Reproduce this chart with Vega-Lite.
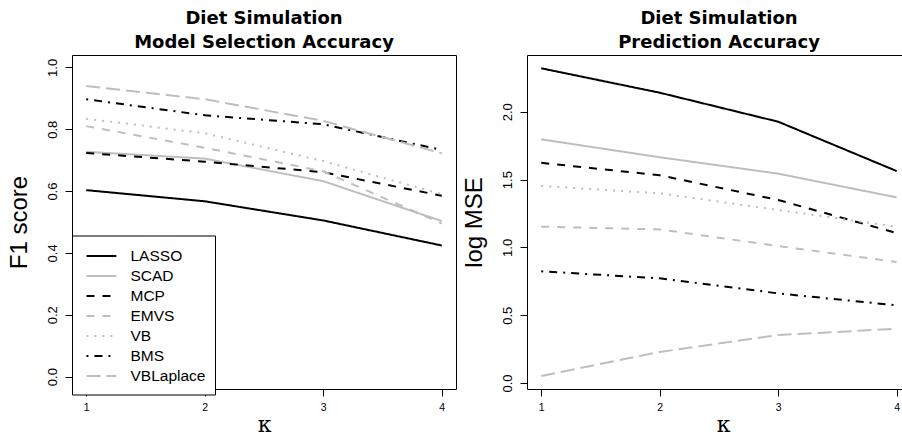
{
  "$schema": "https://vega.github.io/schema/vega-lite/v6.json",
  "background": "white",
  "padding": {"left": 6, "top": 9, "right": 0, "bottom": 0},
  "bounds": "flush",
  "spacing": 71,
  "config": {
    "view": {"stroke": "black", "strokeWidth": 1},
    "font": "Liberation Sans",
    "title": {"font": "DejaVu Sans", "fontSize": 18, "fontWeight": "bold", "color": "black", "lineHeight": 24, "anchor": "middle", "frame": "group", "offset": 3},
    "axis": {"domain": false, "grid": false, "ticks": true, "tickColor": "black", "tickSize": 7, "tickWidth": 1, "labelColor": "black", "labelFont": "Liberation Sans", "titleColor": "black", "titleFontWeight": "normal", "labelOverlap": false, "labelFlush": false},
    "axisX": {"labelFontSize": 10.5, "labelPadding": 6, "titleFont": "DejaVu Serif", "titleFontSize": 22, "titleBaseline": "alphabetic", "titlePadding": 19},
    "axisY": {"labelAngle": 270, "labelAlign": "center", "labelBaseline": "bottom", "labelFontSize": 13, "labelPadding": 6, "titleFont": "Liberation Sans", "titleFontSize": 24, "titleBaseline": "alphabetic", "titlePadding": 20},
    "legend": {"labelFont": "Liberation Sans"}
  },
  "data": {"values": [
    {"k": 1, "method": "LASSO", "f1": 0.603, "mse": 2.321},
    {"k": 2, "method": "LASSO", "f1": 0.567, "mse": 2.141},
    {"k": 3, "method": "LASSO", "f1": 0.505, "mse": 1.927},
    {"k": 4, "method": "LASSO", "f1": 0.424, "mse": 1.563},
    {"k": 1, "method": "SCAD", "f1": 0.727, "mse": 1.797},
    {"k": 2, "method": "SCAD", "f1": 0.705, "mse": 1.665},
    {"k": 3, "method": "SCAD", "f1": 0.632, "mse": 1.544},
    {"k": 4, "method": "SCAD", "f1": 0.503, "mse": 1.369},
    {"k": 1, "method": "MCP", "f1": 0.723, "mse": 1.624},
    {"k": 2, "method": "MCP", "f1": 0.695, "mse": 1.532},
    {"k": 3, "method": "MCP", "f1": 0.661, "mse": 1.35},
    {"k": 4, "method": "MCP", "f1": 0.585, "mse": 1.106},
    {"k": 1, "method": "EMVS", "f1": 0.81, "mse": 1.153},
    {"k": 2, "method": "EMVS", "f1": 0.74, "mse": 1.133},
    {"k": 3, "method": "EMVS", "f1": 0.664, "mse": 1.01},
    {"k": 4, "method": "EMVS", "f1": 0.495, "mse": 0.893},
    {"k": 1, "method": "VB", "f1": 0.834, "mse": 1.453},
    {"k": 2, "method": "VB", "f1": 0.787, "mse": 1.399},
    {"k": 3, "method": "VB", "f1": 0.697, "mse": 1.276},
    {"k": 4, "method": "VB", "f1": 0.59, "mse": 1.153},
    {"k": 1, "method": "BMS", "f1": 0.897, "mse": 0.824},
    {"k": 2, "method": "BMS", "f1": 0.845, "mse": 0.772},
    {"k": 3, "method": "BMS", "f1": 0.816, "mse": 0.661},
    {"k": 4, "method": "BMS", "f1": 0.733, "mse": 0.573},
    {"k": 1, "method": "VBLaplace", "f1": 0.94, "mse": 0.052},
    {"k": 2, "method": "VBLaplace", "f1": 0.897, "mse": 0.229},
    {"k": 3, "method": "VBLaplace", "f1": 0.827, "mse": 0.354},
    {"k": 4, "method": "VBLaplace", "f1": 0.722, "mse": 0.4}
  ]},
  "resolve": {"scale": {"color": "independent", "strokeDash": "independent"}, "legend": {"color": "independent", "strokeDash": "independent"}},
  "hconcat": [
    {
      "width": 384,
      "height": 334,
      "title": {"text": ["Diet Simulation", "Model Selection Accuracy"]},
      "mark": {"type": "line", "strokeWidth": 2, "strokeCap": "butt", "clip": true},
      "encoding": {
        "x": {"field": "k", "type": "quantitative", "scale": {"domain": [0.88, 4.12], "nice": false, "zero": false}, "axis": {"values": [1, 2, 3, 4], "format": "d", "title": "κ"}},
        "y": {"field": "f1", "type": "quantitative", "scale": {"domain": [-0.04, 1.04], "nice": false, "zero": false}, "axis": {"values": [0, 0.2, 0.4, 0.6, 0.8, 1], "format": ".1f", "title": "F1 score"}},
        "color": {"field": "method", "type": "nominal",
          "scale": {"domain": ["LASSO", "SCAD", "MCP", "EMVS", "VB", "BMS", "VBLaplace"], "range": ["#000000", "#BEBEBE", "#000000", "#BEBEBE", "#BEBEBE", "#000000", "#BEBEBE"]},
          "legend": {"title": null, "orient": "none", "legendX": 0, "legendY": 180.5, "padding": 9.5, "rowPadding": 0, "strokeColor": "black", "fillColor": "white", "cornerRadius": 0, "labelFontSize": 15.5, "labelOffset": 27, "symbolType": "M-0.63,0H2.49", "symbolSize": 369, "symbolStrokeWidth": 2, "labelColor": "black"}},
        "strokeDash": {"field": "method", "type": "nominal",
          "scale": {"domain": ["LASSO", "SCAD", "MCP", "EMVS", "VB", "BMS", "VBLaplace"], "range": [[1, 0], [1, 0], [8, 8], [8, 8], [2, 6], [2, 6, 8, 6], [14, 6]]},
          "legend": {"title": null, "orient": "none", "legendX": 0, "legendY": 180.5, "padding": 9.5, "rowPadding": 0, "strokeColor": "black", "fillColor": "white", "cornerRadius": 0, "labelFontSize": 15.5, "labelOffset": 27, "symbolType": "M-0.63,0H2.49", "symbolSize": 369, "symbolStrokeWidth": 2, "labelColor": "black"}}
      }
    },
    {
      "width": 375,
      "height": 334,
      "title": {"text": ["Diet Simulation", "Prediction Accuracy"], "dx": 4.5},
      "mark": {"type": "line", "strokeWidth": 2, "strokeCap": "butt", "clip": true},
      "encoding": {
        "x": {"field": "k", "type": "quantitative", "scale": {"domain": [0.88, 4.045], "nice": false, "zero": false}, "axis": {"values": [1, 2, 3, 4], "format": "d", "title": "κ", "titleX": 196}},
        "y": {"field": "mse", "type": "quantitative", "scale": {"domain": [-0.044, 2.419], "nice": false, "zero": false}, "axis": {"values": [0, 0.5, 1, 1.5, 2], "format": ".1f", "title": "log MSE"}},
        "color": {"field": "method", "type": "nominal",
          "scale": {"domain": ["LASSO", "SCAD", "MCP", "EMVS", "VB", "BMS", "VBLaplace"], "range": ["#000000", "#BEBEBE", "#000000", "#BEBEBE", "#BEBEBE", "#000000", "#BEBEBE"]},
          "legend": null},
        "strokeDash": {"field": "method", "type": "nominal",
          "scale": {"domain": ["LASSO", "SCAD", "MCP", "EMVS", "VB", "BMS", "VBLaplace"], "range": [[1, 0], [1, 0], [8, 8], [8, 8], [2, 6], [2, 6, 8, 6], [14, 6]]},
          "legend": null}
      }
    }
  ]
}
